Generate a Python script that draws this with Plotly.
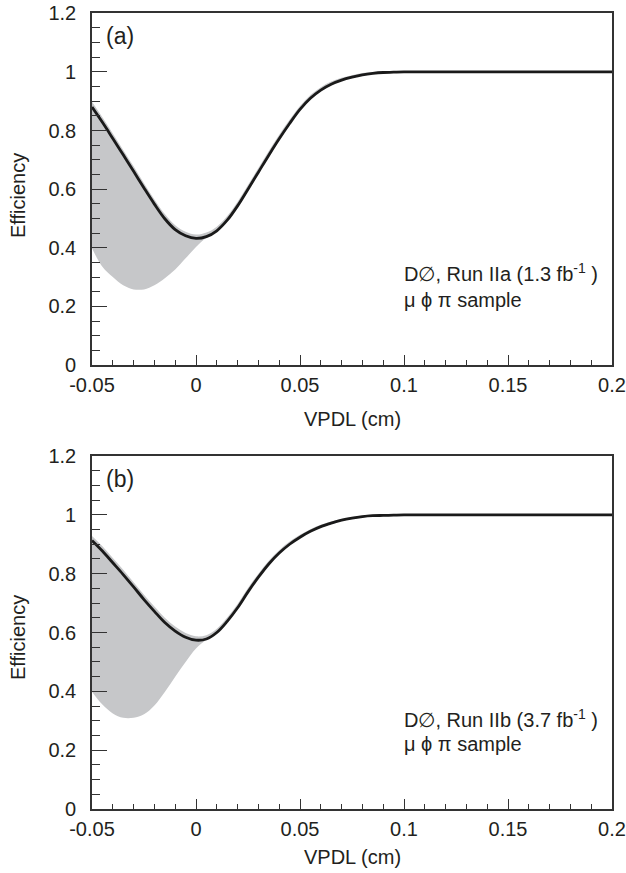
import plotly.graph_objects as go

# ---------------- data ----------------
vpdl = [-0.05, -0.045, -0.04, -0.035, -0.03, -0.025, -0.02, -0.015, -0.01, -0.005,
        0.0, 0.005, 0.01, 0.015, 0.02, 0.025, 0.03, 0.035, 0.04, 0.045,
        0.05, 0.055, 0.06, 0.065, 0.07, 0.075, 0.08, 0.085, 0.09, 0.095, 0.1, 0.2]

eff_a = [0.880, 0.828, 0.773, 0.717, 0.661, 0.604, 0.549, 0.499, 0.462, 0.441,
         0.432, 0.438, 0.458, 0.494, 0.543, 0.600, 0.658, 0.716, 0.772, 0.824,
         0.872, 0.910, 0.938, 0.958, 0.972, 0.982, 0.990, 0.995, 0.998, 0.999, 1.0, 1.0]
band_hi_a = [0.898, 0.845, 0.790, 0.734, 0.678, 0.620, 0.565, 0.515, 0.477, 0.455,
             0.445, 0.452, 0.472, 0.508, 0.557, 0.614, 0.672, 0.730, 0.786, 0.837,
             0.884, 0.921, 0.948, 0.967, 0.980, 0.989, 0.996, 1.000, 1.002, 1.002, 1.002, 1.0]
band_lo_a = [0.398, 0.335, 0.300, 0.272, 0.258, 0.258, 0.272, 0.296, 0.326, 0.364,
             0.403, 0.434, 0.455, 0.491, 0.540, 0.597, 0.655, 0.713, 0.769, 0.821,
             0.869, 0.907, 0.935, 0.955, 0.969, 0.979, 0.987, 0.992, 0.995, 0.996, 0.997, 0.997]

eff_b = [0.913, 0.877, 0.837, 0.797, 0.755, 0.712, 0.672, 0.634, 0.605, 0.584,
         0.574, 0.578, 0.600, 0.638, 0.684, 0.738, 0.788, 0.833, 0.870, 0.900,
         0.924, 0.944, 0.960, 0.972, 0.982, 0.989, 0.994, 0.997, 0.998, 0.999, 1.0, 1.0]
band_hi_b = [0.928, 0.893, 0.853, 0.813, 0.771, 0.728, 0.688, 0.650, 0.620, 0.598,
             0.587, 0.591, 0.613, 0.651, 0.697, 0.751, 0.800, 0.844, 0.880, 0.909,
             0.932, 0.951, 0.966, 0.977, 0.986, 0.993, 0.998, 1.001, 1.002, 1.002, 1.002, 1.0]
band_lo_b = [0.399, 0.355, 0.325, 0.310, 0.310, 0.322, 0.352, 0.398, 0.450, 0.500,
             0.546, 0.575, 0.597, 0.635, 0.681, 0.735, 0.785, 0.830, 0.867, 0.897,
             0.921, 0.941, 0.957, 0.969, 0.979, 0.986, 0.991, 0.994, 0.995, 0.996, 0.997, 0.997]

x_tickvals = [-0.05, 0.0, 0.05, 0.1, 0.15, 0.2]
x_ticktext = ["-0.05", "0", "0.05", "0.1", "0.15", "0.2"]
y_tickvals = [0, 0.2, 0.4, 0.6, 0.8, 1.0, 1.2]
y_ticktext = ["0", "0.2", "0.4", "0.6", "0.8", "1", "1.2"]

panel_labels = ["(a)", "(b)"]
run_labels = ["D\u2205, Run IIa (1.3 fb<sup>-1</sup> )", "D\u2205, Run IIb (3.7 fb<sup>-1</sup> )"]
sample_label = "\u03bc \u03d5 \u03c0 sample"
x_title = "VPDL (cm)"
y_title = "Efficiency"

# ---------------- style ----------------
W, H = 626, 873
FONT = "Liberation Sans, Arial, Helvetica, sans-serif"
TXT = "#231f20"
GRAY = "#c6c7c9"
AX = "#333333"
FS = 20

def px(x):
    return x / W

def py(y):
    return 1 - y / H

fig = go.Figure()

panels = [
    ("x", "y", eff_a, band_hi_a, band_lo_a),
    ("x2", "y2", eff_b, band_hi_b, band_lo_b),
]
for xa, ya, eff, hi, lo in panels:
    fig.add_trace(go.Scatter(x=vpdl, y=lo, mode="lines", line=dict(width=0, color=GRAY, shape="spline"),
                             xaxis=xa, yaxis=ya, showlegend=False, hoverinfo="skip"))
    fig.add_trace(go.Scatter(x=vpdl, y=hi, mode="lines", line=dict(width=0, color=GRAY, shape="spline"),
                             fill="tonexty", fillcolor=GRAY,
                             xaxis=xa, yaxis=ya, showlegend=False, hoverinfo="skip"))
    fig.add_trace(go.Scatter(x=vpdl, y=eff, mode="lines", line=dict(width=2.8, color="#1a1a1a", shape="spline"),
                             xaxis=xa, yaxis=ya, showlegend=False))

x_dom = [px(92), px(612)]
y_doms = [[py(365), py(13.3)], [py(809), py(456)]]

def xaxis_cfg(anchor):
    return dict(domain=x_dom, anchor=anchor, range=[-0.05, 0.2], automargin=False,
                tickvals=x_tickvals, ticktext=x_ticktext, ticklabeloverflow="allow",
                ticks="inside", ticklen=10, tickwidth=1.2, tickcolor=AX,
                minor=dict(ticks="inside", dtick=0.01, tick0=0, ticklen=5, tickwidth=1.2, tickcolor=AX),
                showline=True, linewidth=1.6, linecolor=AX, mirror=True,
                showgrid=False, zeroline=False,
                tickfont=dict(family=FONT, size=FS, color=TXT), ticklabelstandoff=1)

def yaxis_cfg(anchor, dom):
    return dict(domain=dom, anchor=anchor, range=[0, 1.2], automargin=False,
                tickvals=y_tickvals, ticktext=y_ticktext, ticklabeloverflow="allow",
                ticks="inside", ticklen=15, tickwidth=1.2, tickcolor=AX,
                minor=dict(ticks="inside", dtick=0.05, tick0=0, ticklen=8, tickwidth=1.2, tickcolor=AX),
                showline=True, linewidth=1.6, linecolor=AX, mirror=True,
                showgrid=False, zeroline=False,
                tickfont=dict(family=FONT, size=FS, color=TXT), ticklabelstandoff=10)

fig.update_layout(
    width=W, height=H,
    margin=dict(l=0, r=0, t=0, b=0, autoexpand=False),
    paper_bgcolor="white", plot_bgcolor="white",
    xaxis=xaxis_cfg("y"), yaxis=yaxis_cfg("x", y_doms[0]),
    xaxis2=xaxis_cfg("y2"), yaxis2=yaxis_cfg("x2", y_doms[1]),
    showlegend=False,
)

ann = []
# per-panel text positions (screen pixels)
pos = [
    dict(lab=(104, 36), ytitle=196, xtitle=419, run=272, samp=300),
    dict(lab=(104, 479), ytitle=638, xtitle=857, run=718, samp=744),
]
for i, p in enumerate(pos):
    ann.append(dict(x=px(p["lab"][0]), y=py(p["lab"][1]), xref="paper", yref="paper",
                    text=panel_labels[i], showarrow=False, xanchor="left", yanchor="middle",
                    font=dict(family=FONT, size=23, color=TXT)))
    ann.append(dict(x=px(18), y=py(p["ytitle"]), xref="paper", yref="paper",
                    text=y_title, showarrow=False, textangle=-90, xanchor="center", yanchor="middle",
                    font=dict(family=FONT, size=FS, color=TXT)))
    ann.append(dict(x=px(352), y=py(p["xtitle"]), xref="paper", yref="paper",
                    text=x_title, showarrow=False, xanchor="center", yanchor="middle",
                    font=dict(family=FONT, size=FS, color=TXT)))
    ann.append(dict(x=px(402), y=py(p["run"]), xref="paper", yref="paper",
                    text=run_labels[i], showarrow=False, xanchor="left", yanchor="middle",
                    font=dict(family=FONT, size=FS, color=TXT)))
    ann.append(dict(x=px(402), y=py(p["samp"]), xref="paper", yref="paper",
                    text=sample_label, showarrow=False, xanchor="left", yanchor="middle",
                    font=dict(family=FONT, size=FS, color=TXT)))
fig.update_layout(annotations=ann)

fig.write_html(
    "out.html",
    config={"displayModeBar": False},
    post_script="document.body.style.margin='0px';document.body.style.overflow='hidden';",
)
